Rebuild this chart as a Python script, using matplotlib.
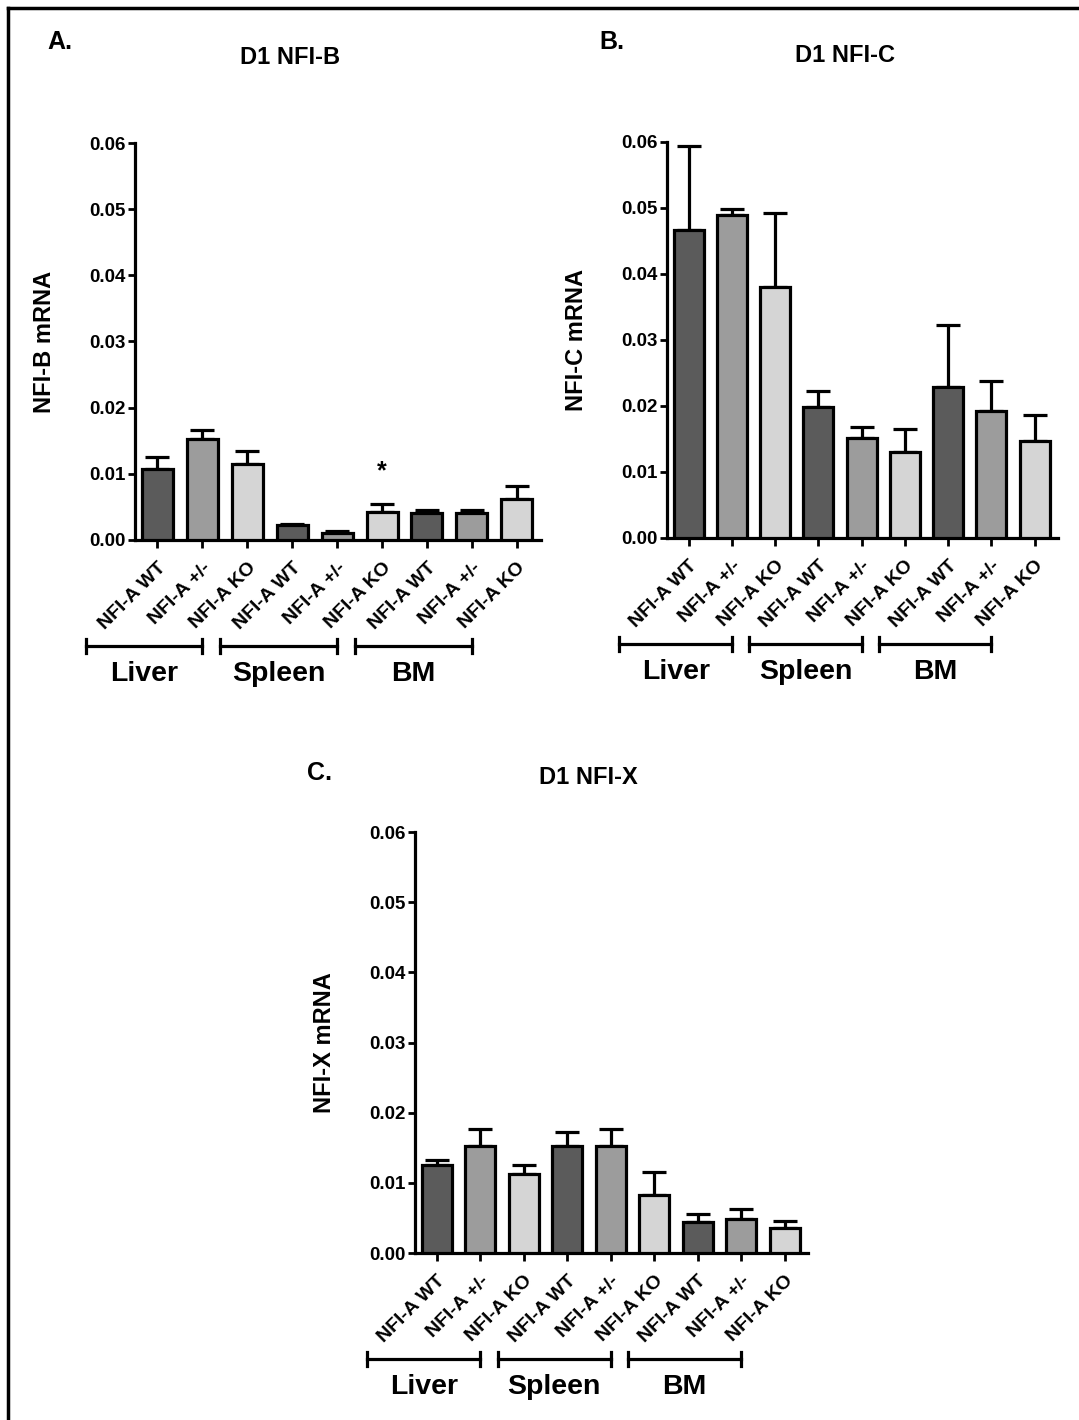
import numpy as np
import matplotlib
matplotlib.use('Agg')
import matplotlib.pyplot as plt
from matplotlib.lines import Line2D
from matplotlib.transforms import blended_transform_factory

plt.rcParams['font.family'] = ['Liberation Sans', 'DejaVu Sans']
plt.rcParams['font.weight'] = 'bold'

# data
conditions = ['NFI-A WT', 'NFI-A +/-', 'NFI-A KO'] * 3
tissues = ['Liver', 'Spleen', 'BM']

nfib_mean = [0.0107, 0.0153, 0.0115, 0.0022, 0.0010, 0.0043, 0.0041, 0.0041, 0.0062]
nfib_sem = [0.0019, 0.0014, 0.0019, 0.0002, 0.0003, 0.0012, 0.0005, 0.0005, 0.0019]

nfic_mean = [0.0466, 0.0490, 0.0381, 0.0198, 0.0152, 0.0130, 0.0229, 0.0193, 0.0147]
nfic_sem = [0.0128, 0.0009, 0.0112, 0.0025, 0.0016, 0.0035, 0.0094, 0.0045, 0.0040]

nfix_mean = [0.0125, 0.0152, 0.0112, 0.0152, 0.0152, 0.0083, 0.0044, 0.0048, 0.0036]
nfix_sem = [0.0007, 0.0025, 0.0013, 0.0020, 0.0025, 0.0033, 0.0011, 0.0014, 0.0010]

yticks = [0.00, 0.01, 0.02, 0.03, 0.04, 0.05, 0.06]
bar_colors = ['#5b5b5b', '#9c9c9c', '#d5d5d5'] * 3

W, H = 1079, 1420
fig = plt.figure(figsize=(W / 100, H / 100), dpi=100)


def px(x, y):
    return x / W, 1 - y / H


def axes_at(left, top, right, bottom):
    return fig.add_axes([left / W, 1 - bottom / H, (right - left) / W, (bottom - top) / H])


def panel(ax, mean, sem, ylabel, star=None):
    x = np.arange(len(mean))
    ax.bar(x, mean, width=0.69, color=bar_colors, edgecolor='black', linewidth=2.3, zorder=3)
    ax.errorbar(x, mean, yerr=[np.zeros(len(mean)), sem], fmt='none', ecolor='black',
                elinewidth=2.3, capsize=8.5, capthick=2.3, zorder=2)
    ax.set_xlim(-0.5, 8.54)
    ax.set_ylim(0, 0.06)
    ax.set_yticks(yticks)
    ax.set_yticklabels(['%.2f' % v for v in yticks], fontsize=13.5, fontweight='bold')
    ax.set_xticks(x)
    ax.set_xticklabels(conditions, rotation=45, ha='right', va='top', rotation_mode='anchor',
                       fontsize=14, fontweight='bold')
    for s in ['top', 'right']:
        ax.spines[s].set_visible(False)
    for s in ['left', 'bottom']:
        ax.spines[s].set_linewidth(2.3)
    ax.tick_params(axis='both', width=2, length=5, pad=2)
    ax.tick_params(axis='x', length=6, pad=8)
    ax.set_ylabel(ylabel, fontsize=17, fontweight='bold', labelpad=24)

    # tissue brackets under the tick labels
    h_px = ax.get_position().height * H
    tr = blended_transform_factory(ax.transData, ax.transAxes)
    yb = -106 / h_px
    cap = 7 / h_px
    for i, name in enumerate(tissues):
        x0, x1 = i * 3 - 1.6, i * 3 + 1.0
        for line in ([x0, x1], [yb, yb]), ([x0, x0], [yb - cap, yb + cap]), ([x1, x1], [yb - cap, yb + cap]):
            ax.add_line(Line2D(*line, transform=tr, color='black', lw=2.3, clip_on=False))
        ax.text((x0 + x1) / 2, -134 / h_px, name, transform=tr, ha='center', va='center',
                fontsize=20.5, fontweight='bold')
    if star is not None:
        ax.text(star[0], star[1], '*', ha='center', va='center', fontsize=18, fontweight='bold')


axA = axes_at(135, 143, 541, 540)
panel(axA, nfib_mean, nfib_sem, 'NFI-B mRNA', star=(5, 0.0104))
axB = axes_at(667, 142, 1058, 538)
panel(axB, nfic_mean, nfic_sem, 'NFI-C mRNA')
axC = axes_at(415, 832, 808, 1253)
panel(axC, nfix_mean, nfix_sem, 'NFI-X mRNA')

for lab, title, (lx, ly), (tx, ty) in [('A.', 'D1 NFI-B', (60, 42), (290, 57)),
                                       ('B.', 'D1 NFI-C', (612, 42), (845, 55)),
                                       ('C.', 'D1 NFI-X', (320, 773), (588, 777))]:
    fig.text(*px(lx, ly), lab, ha='center', va='center', fontsize=18, fontweight='bold')
    fig.text(*px(tx, ty), title, ha='center', va='center', fontsize=17, fontweight='bold')

# frame on left and top edges
fig.add_artist(Line2D([8 / W, 8 / W], [0, 1 - 8 / H], color='black', lw=2.5))
fig.add_artist(Line2D([8 / W, 1], [1 - 8 / H, 1 - 8 / H], color='black', lw=2.5))

fig.savefig('out.png', dpi=100)
